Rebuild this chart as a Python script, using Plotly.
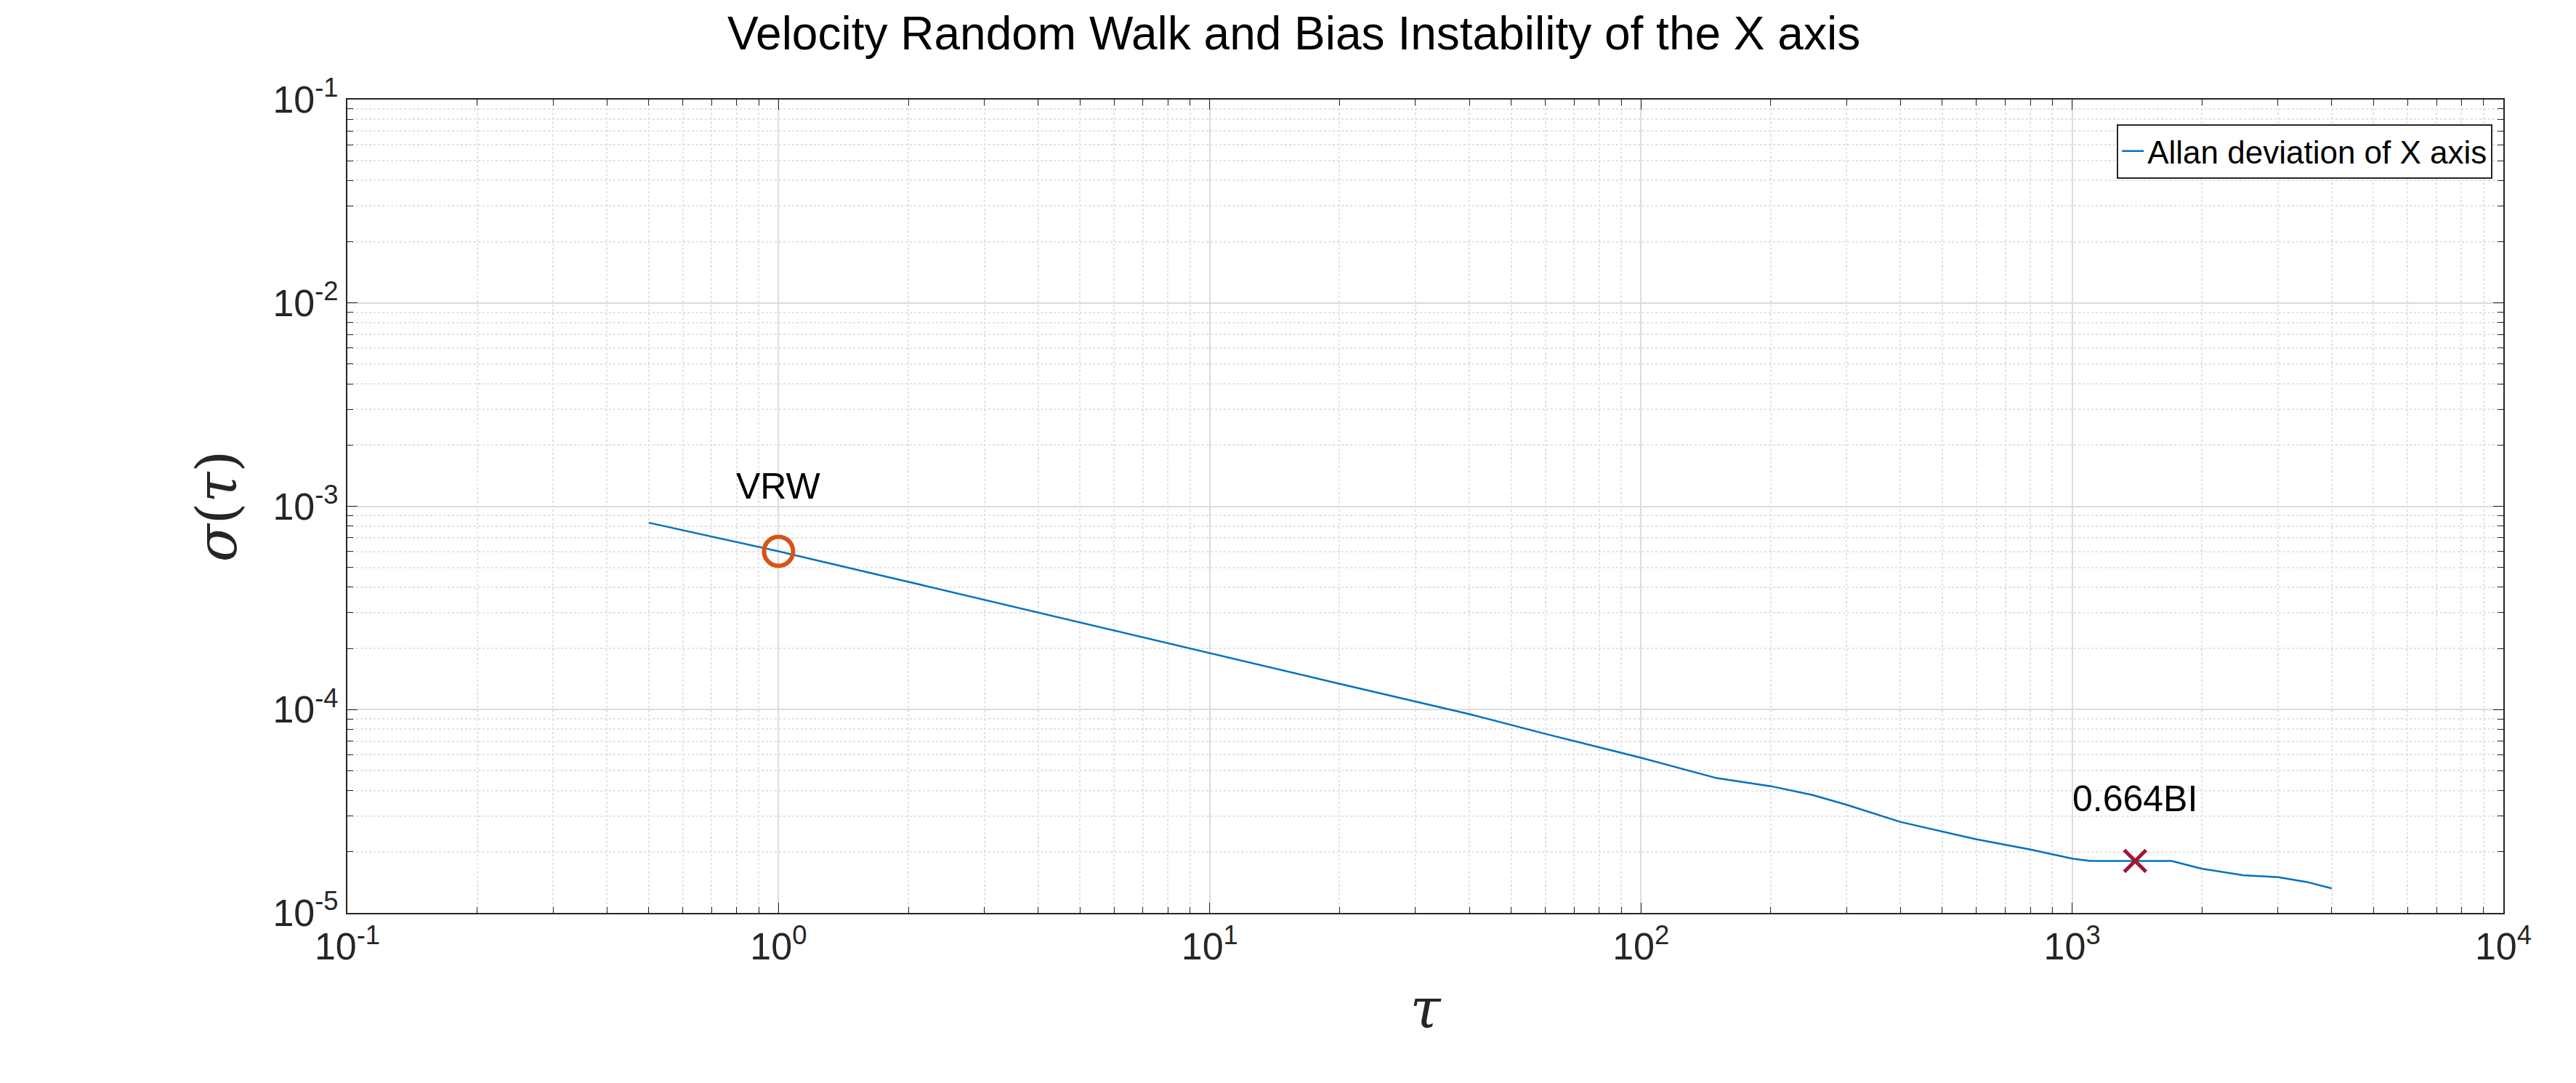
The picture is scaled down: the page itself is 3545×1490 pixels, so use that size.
import plotly.graph_objects as go

tau = [0.5, 0.7, 1, 2, 4, 10, 20, 40, 60, 100, 150, 200, 250, 300, 400, 600, 800, 1000, 1100, 1400, 1700, 2000, 2500, 3000, 3500, 4000]
adev = [8.3e-4, 7.1e-4, 6.0e-4, 4.25e-4, 3.0e-4, 1.9e-4, 1.34e-4, 9.5e-5, 7.6e-5, 5.8e-5, 4.6e-5, 4.2e-5, 3.8e-5, 3.4e-5, 2.8e-5, 2.3e-5, 2.05e-5, 1.85e-5, 1.8e-5, 1.8e-5, 1.8e-5, 1.65e-5, 1.53e-5, 1.5e-5, 1.42e-5, 1.32e-5]
vrw_tau, vrw_val = [1.0], [6.0e-4]
bi_tau, bi_val = [1400], [1.8e-5]
xticks = [0.1, 1, 10, 100, 1000, 10000]
xlabels = ["10<sup>-1</sup>", "10<sup>0</sup>", "10<sup>1</sup>", "10<sup>2</sup>", "10<sup>3</sup>", "10<sup>4</sup>"]
yticks = [1e-5, 1e-4, 1e-3, 1e-2, 1e-1]
ylabels = ["10<sup>-5</sup>", "10<sup>-4</sup>", "10<sup>-3</sup>", "10<sup>-2</sup>", "10<sup>-1</sup>"]

fig = go.Figure()
fig.add_trace(go.Scatter(x=tau, y=adev, mode="lines", line=dict(color="#0072BD", width=2.5),
                         name="Allan deviation of X axis"))
fig.add_trace(go.Scatter(x=vrw_tau, y=vrw_val, mode="markers", showlegend=False,
                         marker=dict(symbol="circle-open", size=40, color="#D95319", line=dict(width=6))))
fig.add_trace(go.Scatter(x=bi_tau, y=bi_val, mode="markers", showlegend=False,
                         marker=dict(symbol="x-thin-open", size=30, color="#A2142F", line=dict(width=5, color="#A2142F"))))
fig.add_annotation(x=0, y=-2.9, xref="x", yref="y", text="VRW", showarrow=False,
                   font=dict(size=50, color="black"))
fig.add_annotation(x=3.146, y=-4.44, xref="x", yref="y", text="0.664BI", showarrow=False,
                   font=dict(size=50, color="black"))

ax = dict(type="log", showline=True, linecolor="#262626", linewidth=2, mirror="ticks",
          ticks="inside", ticklen=14, tickcolor="#262626", showgrid=True, gridcolor="#DCDCDC", gridwidth=2,
          tickfont=dict(size=52, color="#262626"),
          minor=dict(dtick="D1", ticks="inside", ticklen=8, tickcolor="#262626", showgrid=True,
                     gridcolor="#E2E2E2", griddash="dot", gridwidth=1.5), zeroline=False)
fig.update_xaxes(**ax, range=[-1, 4], tickvals=xticks, ticktext=xlabels,
                 title=dict(text="<i>τ</i>", font=dict(size=76, family="DejaVu Serif", color="#262626"), standoff=30))
fig.update_yaxes(**ax, range=[-5, -1], tickvals=yticks, ticktext=ylabels,
                 title=dict(text="<i>σ</i>(<i>τ</i>)", font=dict(size=76, family="DejaVu Serif", color="#262626"), standoff=25))
fig.update_layout(
    width=3545, height=1490, plot_bgcolor="white", paper_bgcolor="white",
    font=dict(family="Liberation Sans, Arial", color="#262626"),
    margin=dict(l=470, r=108, t=129, b=242),
    title=dict(text="Velocity Random Walk and Bias Instability of the X axis", x=0.5, xanchor="center",
               y=0.99, yanchor="top", font=dict(size=64, color="black")),
    legend=dict(x=0.995, y=0.97, xanchor="right", yanchor="top", bgcolor="white",
                bordercolor="#262626", borderwidth=2, font=dict(size=44, color="black")),
)
fig.write_html("out.html")
